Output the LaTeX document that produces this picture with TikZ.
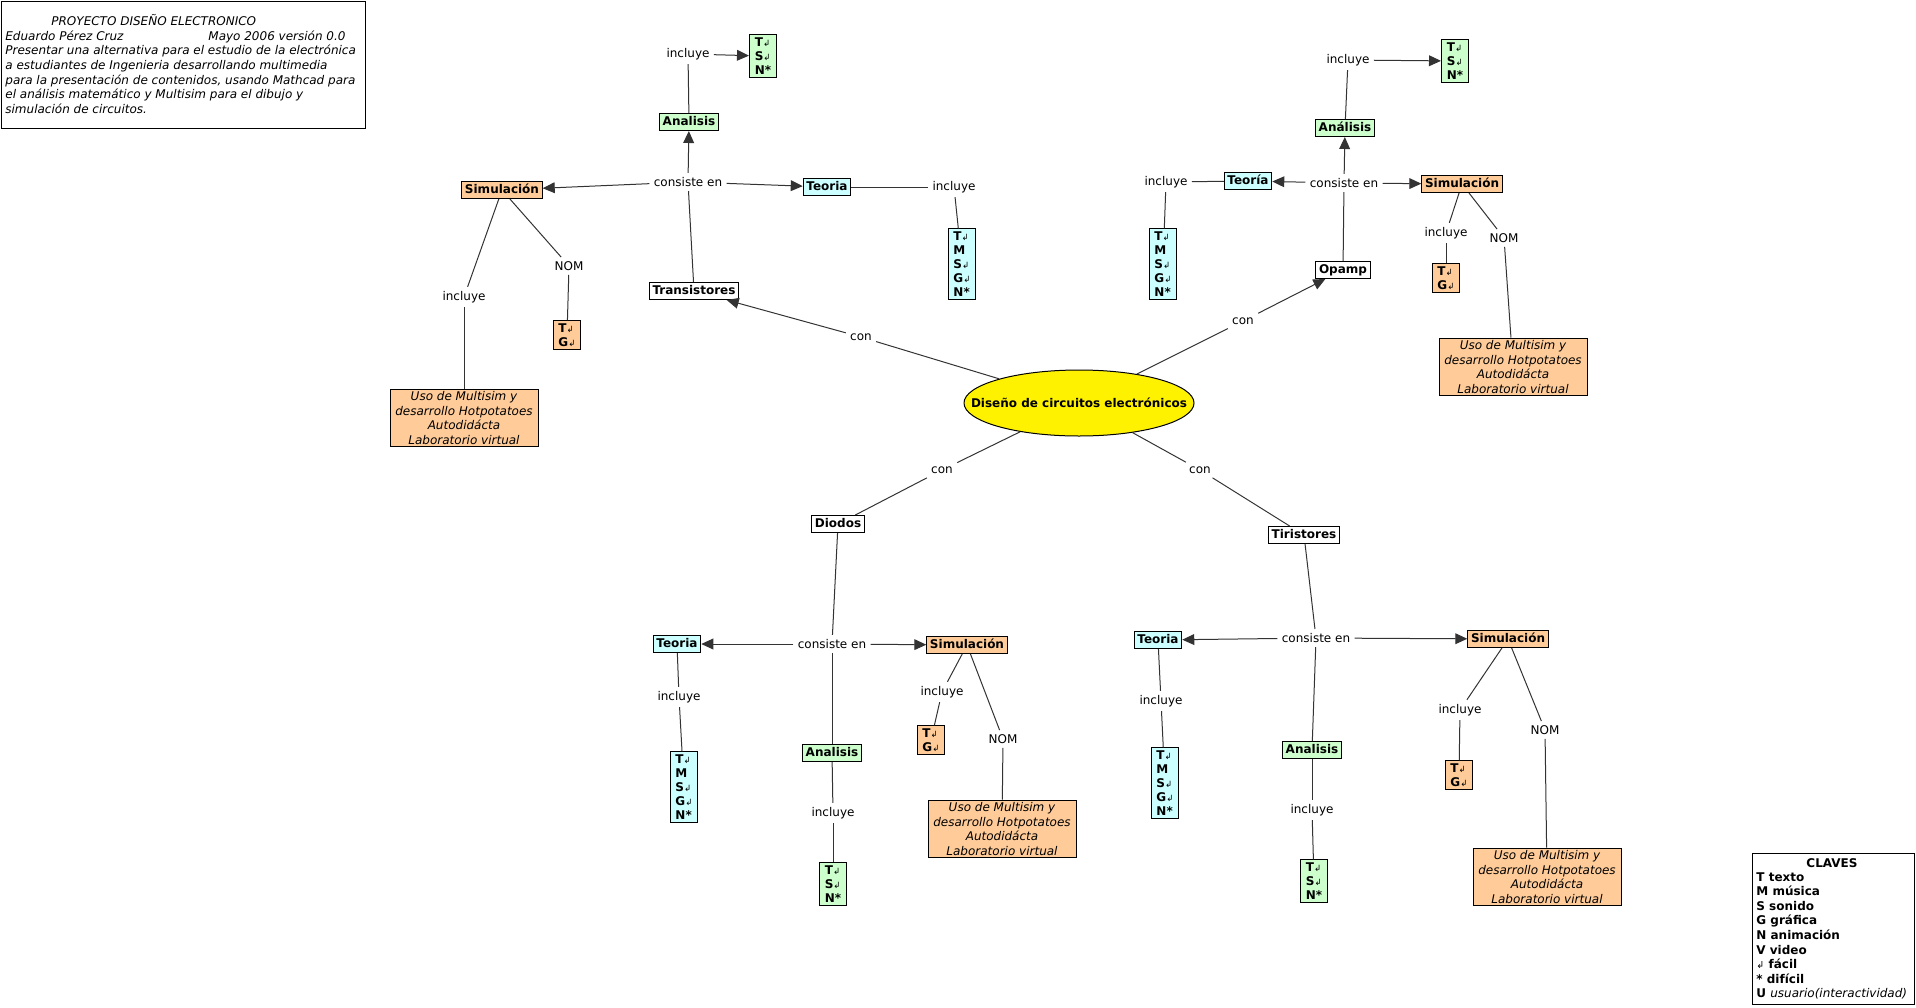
\documentclass[tikz,border=0pt]{standalone}
\usepackage{fontspec}
\setmainfont{DejaVu Sans}
\newfontfamily\arrfont{DejaVu Sans}
\usetikzlibrary{shapes.geometric,arrows.meta}
\definecolor{gfill}{HTML}{CCFFCC}
\definecolor{cfill}{HTML}{CCFFFF}
\definecolor{ofill}{HTML}{FFCC99}
\definecolor{lnc}{HTML}{333333}
\newcommand{\rt}{{\arrfont\fontsize{4.3}{4}\selectfont\mdseries ↲}}
\newcommand{\rtk}{{\arrfont\fontsize{4.8}{4}\selectfont\mdseries ↲}}
\begin{document}
\begin{tikzpicture}[x=0.5pt,y=-0.5pt,
  every node/.style={font=\fontsize{6}{7.33}\selectfont},
  box/.style={draw=black, line width=0.5pt, font=\fontsize{6}{7}\selectfont\bfseries,
    inner xsep=1.6pt, inner ysep=1.3pt, text height=4.6pt, text depth=1.3pt},
  gbox/.style={box, fill=gfill},
  cbox/.style={box, fill=cfill},
  obox/.style={box, fill=ofill},
  wbox/.style={box, fill=white},
  kbox/.style={draw=black, line width=0.5pt, font=\fontsize{6}{7}\selectfont\bfseries,
    align=left, inner xsep=2pt, inner ysep=1.4pt, minimum width=13.5pt},
  gkbox/.style={kbox, fill=gfill},
  ckbox/.style={kbox, fill=cfill},
  okbox/.style={kbox, fill=ofill},
  usobox/.style={draw=black, line width=0.5pt, fill=ofill, font=\fontsize{6}{7.33}\selectfont\itshape,
    align=center, inner xsep=2.5pt, inner ysep=1.1pt, minimum width=74pt},
  lab/.style={inner sep=2pt},
  conn/.style={draw=lnc, line width=0.5pt},
  arr/.style={conn, -{Triangle[length=6pt,width=5.4pt]}}
]
\useasboundingbox (0,0) rectangle (1916,1007);

% description box
\node[draw=black, line width=0.5pt, anchor=north west, minimum width=182pt, minimum height=63.5pt, inner sep=0] (desc) at (1,1) {};
\node[anchor=base west, align=left, inner sep=0, font=\fontsize{6}{7.33}\selectfont\itshape] (desctext) at (5,113.5)
 {\hspace*{23pt}PROYECTO DISEÑO ELECTRONICO\\
  \makebox[101.5pt][l]{Eduardo Pérez Cruz}Mayo 2006 versión 0.0\\
  Presentar una alternativa para el estudio de la electrónica\\
  a estudiantes de Ingenieria desarrollando multimedia\\
  para la presentación de contenidos, usando Mathcad para\\
  el análisis matemático y Multisim para el dibujo y\\
  simulación de circuitos.};

% claves box
\node[draw=black, line width=0.5pt, anchor=north west, minimum width=81pt, minimum height=75.5pt, inner sep=0] (claves) at (1752,853) {};
\node[anchor=base, inner sep=0, font=\fontsize{6}{7.3}\selectfont\bfseries] (clavestit) at (1832,867) {CLAVES};
\node[anchor=base west, align=left, inner sep=0, font=\fontsize{6}{7.3}\selectfont\bfseries] (claveslist) at (1756,997.8)
 {T texto\\M música\\S sonido\\G gráfica\\N animación\\V video\\\rtk{} fácil\\* difícil\\U {\mdseries\itshape usuario(interactividad)}};

% center
\node[ellipse, draw=black, line width=0.5pt, fill=yellow, minimum width=115pt, minimum height=33pt, inner sep=0,
  font=\fontsize{6}{7}\selectfont\bfseries] (c) at (1079,403) {\makebox[0pt]{Diseño de circuitos electrónicos}};

% ---------- Transistores ----------
\node[wbox] (tr) at (694,291) {Transistores};
\node[lab] (tcon) at (861,337) {con};
\node[lab] (tcons) at (688,182) {consiste en};
\node[gbox] (tana) at (689,122) {Analisis};
\node[lab] (tanainc) at (688,54) {incluye};
\node[gkbox] (tanak) at (763,56) {T\rt\\S\rt\\N*};
\node[obox] (tsim) at (502,190) {Simulación};
\node[lab] (tsiminc) at (464,297) {incluye};
\node[usobox] (tsimuso) at (464,418) {Uso de Multisim y\\desarrollo Hotpotatoes\\Autodidácta\\Laboratorio virtual};
\node[lab] (tsimnom) at (569,266) {NOM};
\node[okbox] (tsimk) at (567,335) {T\rt\\G\rt};
\node[cbox] (tteo) at (827,187) {Teoria};
\node[lab] (tteoinc) at (954,187) {incluye};
\node[ckbox] (tteok) at (962,264) {T\rt\\M\\S\rt\\G\rt\\N*};

% ---------- Opamp ----------
\node[wbox] (op) at (1343,270) {Opamp};
\node[lab] (ocon) at (1243,321) {con};
\node[lab] (ocons) at (1344,183) {consiste en};
\node[gbox] (oana) at (1345,128) {Análisis};
\node[lab] (oanainc) at (1348,60) {incluye};
\node[gkbox] (oanak) at (1455,61) {T\rt\\S\rt\\N*};
\node[cbox] (oteo) at (1248,181) {Teoría};
\node[lab] (oteoinc) at (1166,182) {incluye};
\node[ckbox] (oteok) at (1163,264) {T\rt\\M\\S\rt\\G\rt\\N*};
\node[obox] (osim) at (1462,184) {Simulación};
\node[lab] (osiminc) at (1446,233) {incluye};
\node[okbox] (osimk) at (1446,278) {T\rt\\G\rt};
\node[lab] (osimnom) at (1504,238) {NOM};
\node[usobox] (osimuso) at (1513,367) {Uso de Multisim y\\desarrollo Hotpotatoes\\Autodidácta\\Laboratorio virtual};

% ---------- Diodos ----------
\node[wbox] (di) at (838,524) {Diodos};
\node[lab] (dcon) at (942,470) {con};
\node[lab] (dcons) at (832,644) {consiste en};
\node[cbox] (dteo) at (677,644) {Teoria};
\node[lab] (dteoinc) at (679,697) {incluye};
\node[ckbox] (dteok) at (684,787) {T\rt\\M\\S\rt\\G\rt\\N*};
\node[gbox] (dana) at (832,753) {Analisis};
\node[lab] (danainc) at (833,813) {incluye};
\node[gkbox] (danak) at (833,884) {T\rt\\S\rt\\N*};
\node[obox] (dsim) at (967,645) {Simulación};
\node[lab] (dsiminc) at (942,692) {incluye};
\node[okbox] (dsimk) at (931,740) {T\rt\\G\rt};
\node[lab] (dsimnom) at (1003,739) {NOM};
\node[usobox] (dsimuso) at (1002,829) {Uso de Multisim y\\desarrollo Hotpotatoes\\Autodidácta\\Laboratorio virtual};

% ---------- Tiristores ----------
\node[wbox] (ti) at (1304,535) {Tiristores};
\node[lab] (rcon) at (1200,470) {con};
\node[lab] (rcons) at (1316,638) {consiste en};
\node[cbox] (rteo) at (1158,640) {Teoria};
\node[lab] (rteoinc) at (1161,701) {incluye};
\node[ckbox] (rteok) at (1165,783) {T\rt\\M\\S\rt\\G\rt\\N*};
\node[gbox] (rana) at (1312,750) {Analisis};
\node[lab] (ranainc) at (1312,810) {incluye};
\node[gkbox] (ranak) at (1314,881) {T\rt\\S\rt\\N*};
\node[obox] (rsim) at (1508,639) {Simulación};
\node[lab] (rsiminc) at (1460,710) {incluye};
\node[okbox] (rsimk) at (1459,775) {T\rt\\G\rt};
\node[lab] (rsimnom) at (1545,730) {NOM};
\node[usobox] (rsimuso) at (1547,877) {Uso de Multisim y\\desarrollo Hotpotatoes\\Autodidácta\\Laboratorio virtual};

% ---------- connectors ----------
\draw[conn] (c) -- (tcon); \draw[arr] (tcon) -- (tr);
\draw[conn] (c) -- (ocon); \draw[arr] (ocon) -- (op);
\draw[conn] (c) -- (dcon); \draw[conn] (dcon) -- (di);
\draw[conn] (c) -- (rcon); \draw[conn] (rcon) -- (ti);

\draw[conn] (tr) -- (tcons);
\draw[arr] (tcons) -- (tana);
\draw[arr] (tcons) -- (tsim);
\draw[arr] (tcons) -- (tteo);
\draw[conn] (tana) -- (tanainc); \draw[arr] (tanainc) -- (tanak);
\draw[conn] (tteo) -- (tteoinc); \draw[conn] (tteoinc) -- (tteok);
\draw[conn] (tsim) -- (tsiminc); \draw[conn] (tsiminc) -- (tsimuso);
\draw[conn] (tsim) -- (tsimnom); \draw[conn] (tsimnom) -- (tsimk);

\draw[conn] (op) -- (ocons);
\draw[arr] (ocons) -- (oana);
\draw[arr] (ocons) -- (oteo);
\draw[arr] (ocons) -- (osim);
\draw[conn] (oana) -- (oanainc); \draw[arr] (oanainc) -- (oanak);
\draw[conn] (oteo) -- (oteoinc); \draw[conn] (oteoinc) -- (oteok);
\draw[conn] (osim) -- (osiminc); \draw[conn] (osiminc) -- (osimk);
\draw[conn] (osim) -- (osimnom); \draw[conn] (osimnom) -- (osimuso);

\draw[conn] (di) -- (dcons);
\draw[arr] (dcons) -- (dteo);
\draw[arr] (dcons) -- (dsim);
\draw[conn] (dcons) -- (dana);
\draw[conn] (dana) -- (danainc); \draw[conn] (danainc) -- (danak);
\draw[conn] (dteo) -- (dteoinc); \draw[conn] (dteoinc) -- (dteok);
\draw[conn] (dsim) -- (dsiminc); \draw[conn] (dsiminc) -- (dsimk);
\draw[conn] (dsim) -- (dsimnom); \draw[conn] (dsimnom) -- (dsimuso);

\draw[conn] (ti) -- (rcons);
\draw[arr] (rcons) -- (rteo);
\draw[arr] (rcons) -- (rsim);
\draw[conn] (rcons) -- (rana);
\draw[conn] (rana) -- (ranainc); \draw[conn] (ranainc) -- (ranak);
\draw[conn] (rteo) -- (rteoinc); \draw[conn] (rteoinc) -- (rteok);
\draw[conn] (rsim) -- (rsiminc); \draw[conn] (rsiminc) -- (rsimk);
\draw[conn] (rsim) -- (rsimnom); \draw[conn] (rsimnom) -- (rsimuso);
\end{tikzpicture}
\end{document}
